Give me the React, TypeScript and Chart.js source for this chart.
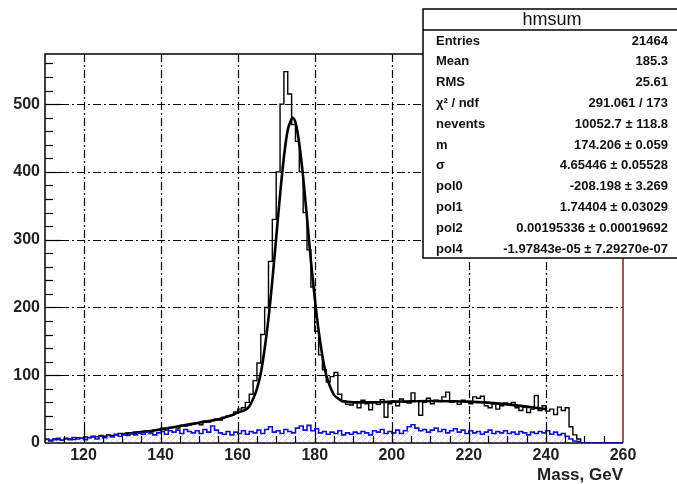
import React, { useEffect, useRef } from 'react';
import { Chart, registerables } from 'chart.js';

Chart.register(...registerables);

// ---- axis ranges / ticks ----
const X_MIN = 110;
const X_MAX = 260;
const Y_MIN = 0;
const Y_MAX = 574;
const X_MAJOR = 20;
const X_MINOR = 5;
const Y_MAJOR = 100;
const Y_MINOR = 20;
const X_TITLE = 'Mass, GeV';

// ---- histogram binning ----
const BIN_START = 110;
const BIN_WIDTH = 1;

// black histogram (hmsum), bins 110..259
const sumCounts = [
  3, 5, 4, 6, 5, 4, 7, 6, 5, 8,
  7, 9, 8, 10, 9, 11, 10, 12, 11, 13,
  14, 12, 15, 14, 16, 15, 17, 18, 16, 19,
  20, 22, 19, 23, 24, 22, 26, 25, 27, 28,
  30, 27, 32, 31, 33, 35, 34, 38, 40, 41,
  46, 50, 52, 60, 72, 92, 118, 160, 200, 268,
  330, 400, 500, 548, 515, 470, 445, 400, 340, 285,
  230, 165, 130, 108, 90, 98, 104, 72, 62, 57,
  56, 60, 52, 63, 58, 49, 61, 57, 64, 38,
  58, 62, 55, 65, 60, 59, 74, 62, 41, 60,
  66, 58, 63, 61, 68, 75, 60, 62, 57, 63,
  60, 58, 68, 66, 69, 55, 52, 58, 50, 55,
  59, 57, 60, 52, 48, 53, 45, 50, 70, 48,
  55, 47, 50, 42, 53, 48, 52, 24, 12, 6,
  0, 0, 0, 0, 0, 0, 0, 0, 0, 0,
];

// blue histogram, bins 110..259
const blueCounts = [
  4, 6, 3, 5, 7, 4, 6, 5, 8, 6,
  7, 5, 8, 9, 6, 10, 8, 11, 9, 12,
  10, 13, 11, 14, 12, 15, 13, 16, 14, 12,
  15, 17, 13, 18, 16, 19, 14, 20, 17, 15,
  18, 14, 20, 16, 25, 19, 15, 13, 17, 12,
  16, 14, 18, 13, 17, 15, 19, 14, 20, 24,
  16, 18, 14, 20, 17, 15, 22, 25, 19, 26,
  18, 21, 15, 17, 13, 16, 14, 18, 12, 15,
  13, 16, 14, 17, 15, 12, 18, 16, 20, 14,
  17, 15, 19, 14, 18, 24, 27, 22, 18, 20,
  16, 19, 22, 17, 20, 15, 18, 21, 16, 19,
  14, 18, 15, 17, 13, 16, 19, 14, 17, 15,
  18, 14, 16, 13, 17, 15, 12, 16, 14, 17,
  15, 18, 13, 16, 12, 14, 10, 6, 3, 2,
  0, 0, 0, 0, 0, 0, 0, 0, 0, 0,
];

// fit curve
const fitMass = [
  130, 135, 140, 145, 150, 155, 158, 160, 162, 163, 164, 165, 166, 167, 168, 169,
  170, 171, 172, 173, 174, 174.2, 175, 176, 177, 178, 179, 180, 181, 182, 183, 184,
  185, 186, 187, 188, 190, 195, 200, 210, 220, 230, 240,
];
const fitValues = [
  13, 16, 20, 25, 30, 35, 40, 45, 49, 54, 65, 80, 103, 139, 184, 240,
  303, 366, 422, 462, 478, 480, 473, 441, 392, 332, 269, 214, 166, 128, 100, 83,
  71, 66, 62, 61, 60, 60, 61, 62, 61, 57, 50,
];

// stats box
const statsTitle = 'hmsum';
const statsLabels = ['Entries', 'Mean', 'RMS', 'χ² / ndf', 'nevents', 'm', 'σ', 'pol0', 'pol1', 'pol2', 'pol4'];
const statsValues = [
  '21464',
  '185.3',
  '25.61',
  '291.061 / 173',
  '10052.7 ± 118.8',
  '174.206 ± 0.059',
  '4.65446 ± 0.05528',
  '-208.198 ± 3.269',
  '1.74404 ± 0.03029',
  '0.00195336 ± 0.00019692',
  '-1.97843e-05 ± 7.29270e-07',
];

const FONT = '"Liberation Sans", Arial, sans-serif';

function histPoints(counts: number[]) {
  const pts = counts.map((v, i) => ({ x: BIN_START + i * BIN_WIDTH, y: v }));
  pts.push({ x: BIN_START + counts.length * BIN_WIDTH, y: counts[counts.length - 1] });
  return pts;
}

const rootStyle = {
  id: 'rootStyle',
  beforeDatasetsDraw(chart: any) {
    const { ctx, chartArea: a, scales } = chart;
    const xs = scales.x;
    const ys = scales.y;
    ctx.save();
    ctx.strokeStyle = '#000';
    ctx.lineWidth = 1.2;
    ctx.setLineDash([8, 3, 2, 3]);
    for (let v = 120; v < X_MAX; v += X_MAJOR) {
      const px = Math.round(xs.getPixelForValue(v)) + 0.5;
      ctx.beginPath();
      ctx.moveTo(px, a.top);
      ctx.lineTo(px, a.bottom);
      ctx.stroke();
    }
    for (let v = Y_MAJOR; v < Y_MAX; v += Y_MAJOR) {
      const py = Math.round(ys.getPixelForValue(v)) + 0.5;
      ctx.beginPath();
      ctx.moveTo(a.left, py);
      ctx.lineTo(a.right, py);
      ctx.stroke();
    }
    ctx.setLineDash([]);
    ctx.lineWidth = 1.5;
    ctx.beginPath();
    ctx.moveTo(a.left, a.bottom);
    ctx.lineTo(a.right, a.bottom);
    ctx.stroke();
    ctx.restore();
  },
  afterDatasetsDraw(chart: any) {
    const { ctx, chartArea: a, scales } = chart;
    const xs = scales.x;
    const ys = scales.y;
    ctx.save();
    ctx.strokeStyle = '#000';
    ctx.lineWidth = 1.2;
    for (let v = 115; v < X_MAX; v += X_MINOR) {
      const px = Math.round(xs.getPixelForValue(v)) + 0.5;
      const len = v % X_MAJOR === 0 ? 14 : 7;
      ctx.beginPath();
      ctx.moveTo(px, a.bottom);
      ctx.lineTo(px, a.bottom - len);
      ctx.stroke();
    }
    for (let v = Y_MINOR; v < Y_MAX; v += Y_MINOR) {
      const py = Math.round(ys.getPixelForValue(v)) + 0.5;
      const len = v % Y_MAJOR === 0 ? 16 : 8;
      ctx.beginPath();
      ctx.moveTo(a.left, py);
      ctx.lineTo(a.left + len, py);
      ctx.stroke();
    }
    ctx.lineWidth = 1.5;
    ctx.beginPath();
    ctx.moveTo(a.left, a.bottom);
    ctx.lineTo(a.left, a.top);
    ctx.lineTo(a.right, a.top);
    ctx.stroke();
    ctx.strokeStyle = '#8b1a1a';
    ctx.beginPath();
    ctx.moveTo(a.right, a.top);
    ctx.lineTo(a.right, a.bottom);
    ctx.stroke();
    ctx.restore();
  },
  afterDraw(chart: any) {
    const { ctx } = chart;
    const bx = 423;
    const by = 9;
    const bw = 260;
    const bh = 249;
    ctx.save();
    ctx.fillStyle = '#fff';
    ctx.fillRect(bx, by, bw, bh);
    ctx.strokeStyle = '#000';
    ctx.lineWidth = 1.5;
    ctx.strokeRect(bx, by, bw, bh);
    ctx.beginPath();
    ctx.moveTo(bx, 30);
    ctx.lineTo(bx + bw, 30);
    ctx.stroke();
    ctx.fillStyle = '#111';
    ctx.textBaseline = 'middle';
    ctx.textAlign = 'center';
    ctx.font = `18px ${FONT}`;
    ctx.fillText(statsTitle, 552, 20);
    ctx.font = `bold 13px ${FONT}`;
    statsLabels.forEach((lab, i) => {
      const y = 41 + i * 20.8;
      ctx.textAlign = 'left';
      ctx.fillText(lab, 436, y);
      ctx.textAlign = 'right';
      ctx.fillText(statsValues[i], 668, y);
    });
    ctx.restore();
  },
};

export default function App() {
  const ref = useRef<HTMLCanvasElement | null>(null);
  useEffect(() => {
    const canvas = ref.current;
    if (!canvas) return;
    const ctx = canvas.getContext('2d')!;
    const pc = document.createElement('canvas');
    pc.width = 6;
    pc.height = 6;
    const pctx = pc.getContext('2d')!;
    pctx.strokeStyle = 'rgba(140,140,235,0.38)';
    pctx.lineWidth = 1;
    pctx.beginPath();
    pctx.moveTo(0, 6);
    pctx.lineTo(6, 0);
    pctx.stroke();
    const hatch = ctx.createPattern(pc, 'repeat');

    const chart = new Chart(ctx, {
      type: 'line',
      data: {
        datasets: [
          {
            label: 'blue',
            data: histPoints(blueCounts),
            stepped: 'after',
            borderColor: '#1010c8',
            borderWidth: 1.6,
            backgroundColor: hatch as any,
            fill: 'origin',
            pointRadius: 0,
            order: 0,
          },
          {
            label: 'fit',
            data: fitMass.map((m, i) => ({ x: m, y: fitValues[i] })),
            borderColor: '#000',
            borderWidth: 2.6,
            cubicInterpolationMode: 'monotone',
            fill: false,
            pointRadius: 0,
            order: 1,
          },
          {
            label: 'hmsum',
            data: histPoints(sumCounts),
            stepped: 'after',
            borderColor: '#000',
            borderWidth: 1.4,
            fill: false,
            pointRadius: 0,
            order: 2,
          },
        ],
      },
      options: {
        animation: false,
        responsive: false,
        devicePixelRatio: 1,
        parsing: false as any,
        layout: { padding: { left: 0, top: 54, right: 54, bottom: 0 } },
        plugins: { legend: { display: false }, tooltip: { enabled: false } },
        scales: {
          x: {
            type: 'linear',
            min: X_MIN,
            max: X_MAX,
            grid: { display: false, drawTicks: false },
            border: { display: false },
            ticks: {
              stepSize: X_MAJOR,
              includeBounds: false,
              maxRotation: 0,
              autoSkip: false,
              padding: 3,
              color: '#222',
              font: { family: FONT, size: 16, weight: 'bold' },
            },
            title: {
              display: true,
              text: X_TITLE,
              align: 'end',
              color: '#222',
              padding: { top: 0, bottom: 0 },
              font: { family: FONT, size: 17, weight: 'bold', lineHeight: 1 },
            },
            afterFit: (s: any) => {
              s.height = 41;
            },
          },
          y: {
            type: 'linear',
            min: Y_MIN,
            max: Y_MAX,
            grid: { display: false, drawTicks: false },
            border: { display: false },
            ticks: {
              stepSize: Y_MAJOR,
              includeBounds: false,
              padding: 5,
              color: '#222',
              font: { family: FONT, size: 16, weight: 'bold' },
            },
            afterFit: (s: any) => {
              s.width = 45;
            },
          },
        },
      },
      plugins: [rootStyle],
    } as any);
    return () => chart.destroy();
  }, []);

  return (
    <div style={{ position: 'fixed', left: 0, top: 0, width: 677, height: 484, background: '#fff' }}>
      <canvas ref={ref} width={677} height={484} style={{ width: 677, height: 484, display: 'block' }} />
    </div>
  );
}
